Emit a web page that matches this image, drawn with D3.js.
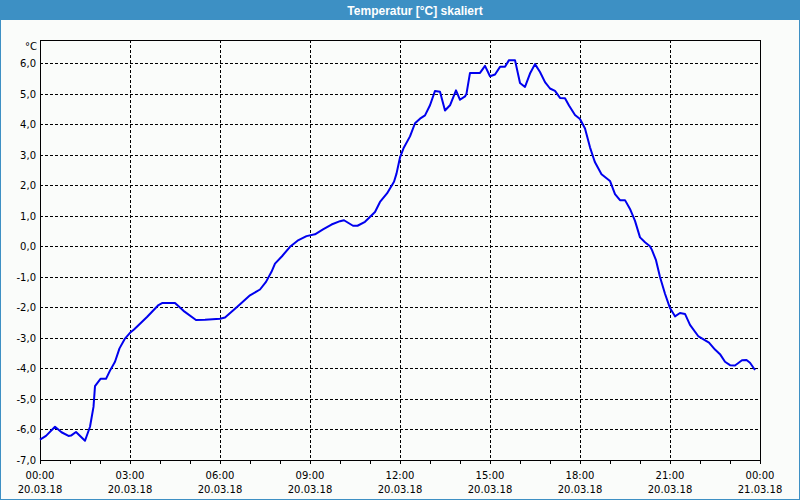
<!DOCTYPE html>
<html><head><meta charset="utf-8">
<script src="https://cdn.jsdelivr.net/npm/d3@7/dist/d3.min.js"></script>
<style>
html,body{margin:0;padding:0;background:#fff;}
svg{display:block;}
</style></head>
<body>
<svg id="chart" width="800" height="500"></svg>
<script>
const title = "Temperatur [°C] skaliert";
const unitLabel = "°C";
const day = "2018-03-20";
const times = ["00:00","00:12","00:30","00:43","00:57","01:02","01:12","01:30","01:40","01:47","01:50","02:01","02:12","02:20","02:30","02:39","02:50","03:00","03:08","03:34","03:57","04:05","04:30","04:47","05:12","05:30","06:00","06:10","06:34","07:00","07:20","07:32","07:43","07:50","08:04","08:20","08:37","08:53","09:10","09:26","09:43","10:00","10:08","10:17","10:26","10:35","10:50","11:10","11:20","11:34","11:48","11:53","12:00","12:07","12:20","12:30","12:40","12:50","13:00","13:10","13:20","13:30","13:40","13:52","14:00","14:10","14:13","14:20","14:40","14:50","15:00","15:10","15:20","15:30","15:38","15:50","16:00","16:10","16:20","16:30","16:40","16:50","17:00","17:10","17:20","17:30","17:38","17:50","18:00","18:10","18:20","18:27","18:30","18:43","19:00","19:10","19:20","19:30","19:40","19:50","20:00","20:10","20:20","20:24","20:32","20:40","20:50","21:00","21:10","21:20","21:30","21:40","21:57","22:18","22:30","22:40","22:50","23:00","23:10","23:24","23:33","23:40","23:50"];
const temps = [-6.33,-6.21,-5.91,-6.09,-6.21,-6.20,-6.08,-6.37,-5.91,-5.26,-4.58,-4.34,-4.34,-4.07,-3.78,-3.34,-3.02,-2.83,-2.72,-2.31,-1.92,-1.85,-1.85,-2.11,-2.41,-2.40,-2.37,-2.33,-1.98,-1.60,-1.41,-1.16,-0.83,-0.56,-0.32,-0.01,0.21,0.34,0.40,0.56,0.72,0.83,0.86,0.77,0.68,0.68,0.81,1.13,1.46,1.74,2.12,2.39,2.92,3.22,3.61,4.04,4.19,4.30,4.63,5.10,5.07,4.46,4.63,5.12,4.81,4.92,5.01,5.69,5.69,5.92,5.58,5.64,5.89,5.89,6.11,6.11,5.36,5.23,5.67,5.98,5.72,5.39,5.18,5.10,4.87,4.86,4.62,4.31,4.18,3.87,3.25,2.90,2.76,2.37,2.15,1.72,1.52,1.52,1.23,0.84,0.30,0.14,0.01,-0.12,-0.45,-1.00,-1.55,-2.02,-2.29,-2.18,-2.21,-2.57,-2.95,-3.15,-3.38,-3.53,-3.78,-3.89,-3.90,-3.73,-3.72,-3.81,-4.05];
const yTicks = [-7,-6,-5,-4,-3,-2,-1,0,1,2,3,4,5,6];
const yDomain = [-7, 6.77];

const svg = d3.select("#chart");
const W = 800, H = 500;
const m = {left:40, right:40, top:40, bottom:40};
const iw = W - m.left - m.right, ih = H - m.top - m.bottom;
const barColor = "#3d90c4";

// background and window frame
svg.append("rect").attr("x",0).attr("y",0).attr("width",W).attr("height",H).attr("fill","#fafcfa");
svg.append("rect").attr("x",0.5).attr("y",0.5).attr("width",W-1).attr("height",H-1)
  .attr("fill","none").attr("stroke",barColor).attr("stroke-width",1);
svg.append("rect").attr("x",0).attr("y",0).attr("width",W).attr("height",20).attr("fill",barColor);
svg.append("text").attr("x",415).attr("y",14.5).attr("text-anchor","middle")
  .attr("font-family","'Liberation Sans', Arial, sans-serif").attr("font-weight","bold")
  .attr("font-size","12px").attr("fill","#fff").text(title);

const parse = d3.timeParse("%Y-%m-%d %H:%M");
const t0 = parse(day + " 00:00");
const t1 = d3.timeDay.offset(t0, 1);
const data = times.map((t,i)=>({t:parse(day+" "+t), v:temps[i]}));

const x = d3.scaleTime().domain([t0,t1]).range([m.left, m.left+iw]);
const y = d3.scaleLinear().domain(yDomain).range([m.top+ih, m.top]);

const font = "'DejaVu Sans', Verdana, sans-serif";
const g = svg.append("g");

// horizontal grid
g.append("g").selectAll("line").data(yTicks).join("line")
  .attr("x1",m.left).attr("x2",m.left+iw)
  .attr("y1",d=>Math.round(y(d))+0.5).attr("y2",d=>Math.round(y(d))+0.5)
  .attr("stroke","#000").attr("stroke-dasharray","3,2").attr("shape-rendering","crispEdges");

// vertical grid
const major = d3.timeHour.every(3).range(t0, d3.timeMinute.offset(t1,1));
g.append("g").selectAll("line").data(major.filter(d=>d>t0 && d<t1)).join("line")
  .attr("x1",d=>Math.round(x(d))+0.5).attr("x2",d=>Math.round(x(d))+0.5)
  .attr("y1",m.top).attr("y2",m.top+ih)
  .attr("stroke","#000").attr("stroke-dasharray","3,2").attr("shape-rendering","crispEdges");

// frame
g.append("path")
  .attr("d",`M${m.left+0.5},${m.top+ih+0.5}V${m.top+0.5}H${m.left+iw+0.5}V${m.top+ih+0.5}`)
  .attr("fill","none").attr("stroke","#000").attr("shape-rendering","crispEdges");

// bottom axis with hourly ticks
const xAxis = d3.axisBottom(x).ticks(d3.timeHour.every(1)).tickSize(3).tickFormat("");
const ax = g.append("g").attr("transform",`translate(0,${m.top+ih+0.5})`).call(xAxis);
ax.select(".domain").attr("stroke","#000").attr("d",`M${m.left},0H${m.left+iw+1}`).attr("shape-rendering","crispEdges");
ax.selectAll(".tick line").attr("stroke","#000").attr("shape-rendering","crispEdges");

// x labels
const fmtT = d3.timeFormat("%H:%M"), fmtD = d3.timeFormat("%d.%m.%y");
const lab = g.append("g").selectAll("text").data(major).join("text")
  .attr("x",d=>x(d)).attr("text-anchor","middle")
  .attr("font-family",font).attr("font-size","10px").attr("fill","#000");
lab.append("tspan").attr("x",d=>x(d)).attr("y",479).text(d=>fmtT(d));
lab.append("tspan").attr("x",d=>x(d)).attr("y",493).text(d=>fmtD(d));

// y labels
g.append("g").selectAll("text").data(yTicks).join("text")
  .attr("x",36).attr("y",d=>y(d)+4).attr("text-anchor","end")
  .attr("font-family",font).attr("font-size","10px").attr("fill","#000")
  .text(d=>d3.format(".1f")(d).replace(".",",").replace("−","-"));
g.append("text").attr("x",37).attr("y",50).attr("text-anchor","end")
  .attr("font-family",font).attr("font-size","10px").attr("fill","#000").text(unitLabel);

// series line
const line = d3.line().x(d=>x(d.t)).y(d=>y(d.v));
g.append("path").datum(data).attr("d",line)
  .attr("fill","none").attr("stroke","#0000ee").attr("stroke-width",2).attr("stroke-linejoin","round");
</script>
</body></html>
